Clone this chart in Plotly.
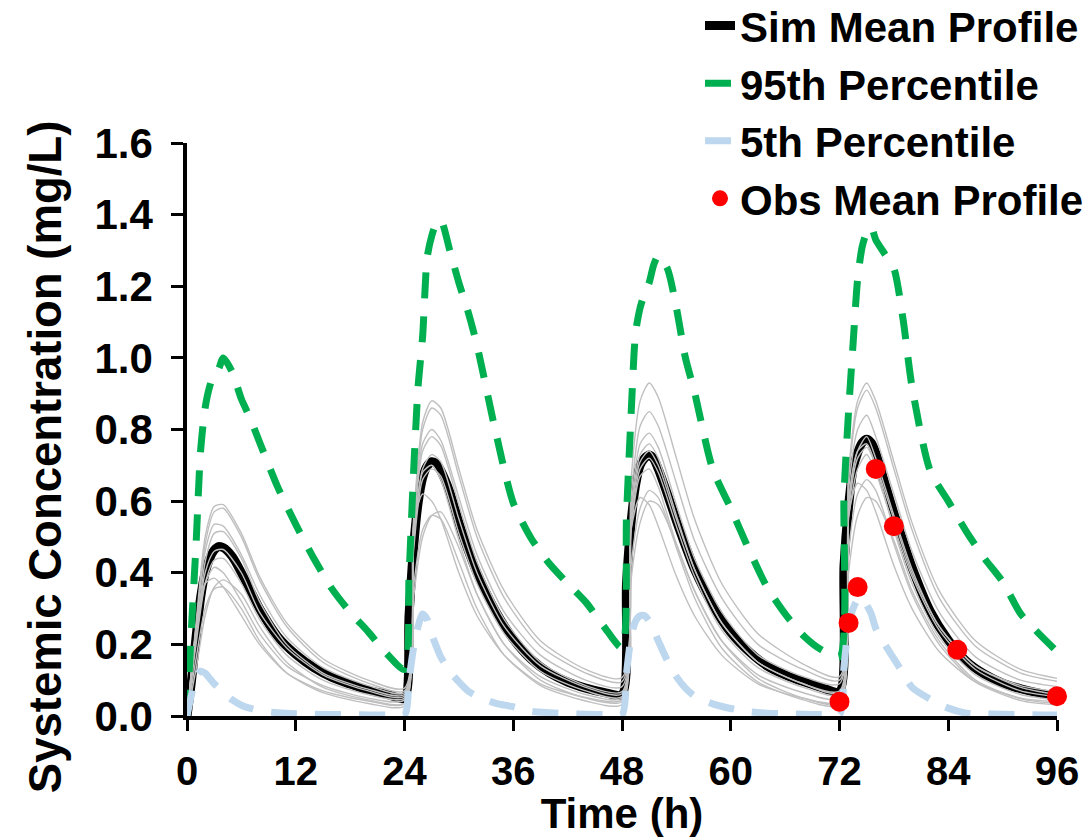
import plotly.graph_objects as go

# Sampling times (h) for the simulated summary profiles, four 24-h dosing intervals
sim_hours = [
    0, 0.5, 1, 1.5, 2, 2.5, 3, 3.5, 4, 5, 6, 7, 8, 10, 12, 14, 16, 18, 20, 22,
    24, 24.5, 25, 25.5, 26, 26.5, 27, 27.5, 28, 29, 30, 31, 32, 34, 36, 38, 40, 42, 44, 46,
    48, 48.5, 49, 49.5, 50, 50.5, 51, 51.5, 52, 53, 54, 55, 56, 58, 60, 62, 64, 66, 68, 70,
    72, 72.5, 73, 73.5, 74, 74.5, 75, 75.5, 76, 77, 78, 79, 80, 82, 84, 86, 88, 90, 92, 94,
    96,
]

sim_mean = [
    0.0, 0.10, 0.22, 0.33, 0.40, 0.44, 0.463, 0.473, 0.47, 0.445, 0.40, 0.35, 0.30, 0.222, 0.172, 0.135, 0.108, 0.089, 0.072, 0.061,
    0.050, 0.28, 0.47, 0.595, 0.665, 0.698, 0.71, 0.705, 0.685, 0.625, 0.54, 0.465, 0.40, 0.295, 0.215, 0.158, 0.12, 0.095, 0.078, 0.066,
    0.060, 0.37, 0.54, 0.645, 0.70, 0.72, 0.729, 0.718, 0.69, 0.62, 0.545, 0.475, 0.41, 0.31, 0.233, 0.18, 0.14, 0.115, 0.096, 0.08,
    0.068, 0.42, 0.585, 0.69, 0.735, 0.763, 0.773, 0.763, 0.735, 0.65, 0.566, 0.49, 0.415, 0.293, 0.212, 0.153, 0.117, 0.092, 0.076, 0.064,
    0.055,
]

p95 = [
    0.0, 0.25, 0.48, 0.74, 0.86, 0.92, 0.955, 0.97, 1.0, 0.96, 0.885, 0.83, 0.765, 0.64, 0.535, 0.44, 0.355, 0.29, 0.235, 0.175,
    0.13, 0.39, 0.68, 0.92, 1.06, 1.28, 1.34, 1.375, 1.385, 1.30, 1.21, 1.13, 1.035, 0.80, 0.595, 0.495, 0.425, 0.37, 0.318, 0.25,
    0.19, 0.56, 0.84, 1.07, 1.14, 1.18, 1.21, 1.26, 1.285, 1.25, 1.14, 1.0, 0.905, 0.69, 0.58, 0.465, 0.36, 0.285, 0.225, 0.185,
    0.165, 0.62, 0.85, 1.04, 1.22, 1.31, 1.35, 1.365, 1.33, 1.29, 1.25, 1.11, 0.92, 0.685, 0.60, 0.515, 0.44, 0.375, 0.285, 0.23,
    0.18,
]

p05 = [
    0.0, 0.06, 0.11, 0.125, 0.12, 0.105, 0.09, 0.078, 0.065, 0.045, 0.03, 0.021, 0.015, 0.009, 0.006, 0.005, 0.004, 0.004, 0.003, 0.003,
    0.003, 0.10, 0.19, 0.25, 0.285, 0.27, 0.228, 0.195, 0.165, 0.125, 0.095, 0.07, 0.056, 0.036, 0.026, 0.013, 0.009, 0.006, 0.005, 0.004,
    0.004, 0.12, 0.22, 0.265, 0.28, 0.28, 0.265, 0.24, 0.21, 0.155, 0.11, 0.078, 0.056, 0.034, 0.021, 0.012, 0.008, 0.006, 0.005, 0.004,
    0.004, 0.14, 0.25, 0.30, 0.325, 0.33, 0.31, 0.285, 0.245, 0.20, 0.16, 0.12, 0.08, 0.047, 0.022, 0.008, 0.006, 0.005, 0.004, 0.003,
    0.003,
]

# Individual trial mean profiles (thin grey lines)
trial_hours = [
    0, 1, 2, 3, 4, 6, 8, 11, 15, 20,
    24, 25, 26, 27, 28, 30, 32, 35, 39, 44,
    48, 49, 50, 51, 52, 54, 56, 59, 63, 68,
    72, 73, 74, 75, 76, 78, 80, 83, 87, 92,
    96,
]

trial_01 = [0, 0.26, 0.50, 0.585, 0.59, 0.51, 0.39, 0.26, 0.16, 0.10,
            0.078, 0.55, 0.82, 0.88, 0.86, 0.69, 0.52, 0.35, 0.21, 0.13,
            0.107, 0.66, 0.88, 0.93, 0.89, 0.72, 0.55, 0.37, 0.23, 0.145,
            0.11, 0.68, 0.88, 0.93, 0.88, 0.71, 0.54, 0.35, 0.21, 0.13,
            0.105]
trial_02 = [0, 0.24, 0.48, 0.57, 0.58, 0.50, 0.38, 0.25, 0.15, 0.092,
            0.07, 0.53, 0.80, 0.86, 0.84, 0.67, 0.50, 0.33, 0.195, 0.12,
            0.096, 0.61, 0.81, 0.85, 0.81, 0.65, 0.49, 0.33, 0.20, 0.13,
            0.10, 0.66, 0.86, 0.91, 0.86, 0.69, 0.52, 0.33, 0.195, 0.12,
            0.097]
trial_03 = [0, 0.25, 0.46, 0.535, 0.53, 0.45, 0.34, 0.22, 0.135, 0.085,
            0.065, 0.52, 0.76, 0.80, 0.77, 0.61, 0.45, 0.29, 0.17, 0.10,
            0.082, 0.58, 0.76, 0.79, 0.75, 0.59, 0.44, 0.29, 0.17, 0.11,
            0.09, 0.63, 0.80, 0.84, 0.78, 0.62, 0.46, 0.29, 0.165, 0.10,
            0.082]
trial_04 = [0, 0.22, 0.43, 0.51, 0.515, 0.44, 0.32, 0.20, 0.12, 0.075,
            0.06, 0.50, 0.74, 0.78, 0.755, 0.59, 0.43, 0.27, 0.15, 0.085,
            0.068, 0.56, 0.73, 0.76, 0.72, 0.56, 0.41, 0.26, 0.15, 0.09,
            0.07, 0.57, 0.72, 0.75, 0.70, 0.55, 0.40, 0.25, 0.14, 0.085,
            0.068]
trial_05 = [0, 0.23, 0.40, 0.46, 0.465, 0.40, 0.29, 0.19, 0.115, 0.07,
            0.055, 0.48, 0.69, 0.73, 0.71, 0.55, 0.40, 0.25, 0.14, 0.08,
            0.062, 0.55, 0.71, 0.74, 0.70, 0.55, 0.41, 0.26, 0.15, 0.09,
            0.065, 0.59, 0.74, 0.78, 0.72, 0.56, 0.41, 0.25, 0.14, 0.08,
            0.06]
trial_06 = [0, 0.20, 0.37, 0.435, 0.44, 0.37, 0.27, 0.17, 0.10, 0.06,
            0.05, 0.46, 0.66, 0.69, 0.67, 0.51, 0.37, 0.23, 0.125, 0.07,
            0.054, 0.53, 0.69, 0.72, 0.68, 0.53, 0.39, 0.24, 0.135, 0.08,
            0.06, 0.55, 0.69, 0.73, 0.68, 0.53, 0.39, 0.24, 0.13, 0.07,
            0.054]
trial_07 = [0, 0.22, 0.37, 0.415, 0.40, 0.32, 0.23, 0.14, 0.085, 0.05,
            0.045, 0.50, 0.68, 0.70, 0.66, 0.49, 0.34, 0.20, 0.11, 0.06,
            0.05, 0.52, 0.67, 0.69, 0.64, 0.48, 0.35, 0.21, 0.115, 0.065,
            0.05, 0.60, 0.74, 0.76, 0.70, 0.52, 0.37, 0.22, 0.115, 0.06,
            0.045]
trial_08 = [0, 0.24, 0.37, 0.385, 0.36, 0.28, 0.20, 0.12, 0.07, 0.042,
            0.035, 0.53, 0.62, 0.60, 0.55, 0.40, 0.28, 0.17, 0.09, 0.052,
            0.045, 0.52, 0.61, 0.59, 0.53, 0.39, 0.28, 0.17, 0.09, 0.05,
            0.04, 0.56, 0.65, 0.63, 0.57, 0.42, 0.30, 0.18, 0.095, 0.05,
            0.04]
trial_09 = [0, 0.13, 0.28, 0.36, 0.38, 0.34, 0.25, 0.15, 0.08, 0.045,
            0.035, 0.33, 0.50, 0.56, 0.57, 0.47, 0.34, 0.20, 0.10, 0.05,
            0.04, 0.38, 0.54, 0.60, 0.59, 0.48, 0.35, 0.21, 0.105, 0.05,
            0.035, 0.40, 0.56, 0.61, 0.60, 0.49, 0.35, 0.21, 0.10, 0.048,
            0.035]
trial_10 = [0, 0.16, 0.30, 0.355, 0.36, 0.30, 0.21, 0.12, 0.065, 0.035,
            0.028, 0.36, 0.52, 0.56, 0.55, 0.43, 0.30, 0.17, 0.085, 0.042,
            0.032, 0.42, 0.58, 0.63, 0.61, 0.47, 0.33, 0.19, 0.095, 0.045,
            0.03, 0.46, 0.62, 0.66, 0.63, 0.48, 0.34, 0.20, 0.095, 0.043,
            0.031]
trials = [trial_01, trial_02, trial_03, trial_04, trial_05,
          trial_06, trial_07, trial_08, trial_09, trial_10]

# Observed mean concentrations after the fourth dose
obs_hours = [72, 73, 74, 76, 78, 85, 96]
obs_conc = [0.04, 0.26, 0.36, 0.69, 0.53, 0.185, 0.055]

x_ticks = [0, 12, 24, 36, 48, 60, 72, 84, 96]

FONT = "Liberation Sans, Arial, sans-serif"
SMOOTH = 0.7
DASH = "26px,18px"

fig = go.Figure()

fig.add_trace(go.Scatter(
    x=sim_hours, y=sim_mean, mode="lines", name="Sim Mean Profile",
    line=dict(color="black", width=9, shape="spline", smoothing=SMOOTH),
))

for tr in trials:
    fig.add_trace(go.Scatter(
        x=trial_hours, y=tr, mode="lines", showlegend=False, hoverinfo="skip",
        line=dict(color="#BFBFBF", width=1.4, shape="spline", smoothing=SMOOTH),
    ))

fig.add_trace(go.Scatter(
    x=sim_hours, y=p95, mode="lines", name="95th Percentile",
    line=dict(color="#00B050", width=7, dash=DASH, shape="spline", smoothing=SMOOTH),
))
fig.add_trace(go.Scatter(
    x=sim_hours, y=p05, mode="lines", name="5th Percentile",
    line=dict(color="#BDD7EE", width=7, dash=DASH, shape="spline", smoothing=SMOOTH),
))
fig.add_trace(go.Scatter(
    x=obs_hours, y=obs_conc, mode="markers", name="Obs Mean Profile",
    marker=dict(color="#FF0000", size=20), cliponaxis=False,
))

title_font = dict(family=FONT, size=42, color="black", weight="bold")

fig.update_layout(
    width=1089, height=837,
    margin=dict(l=187, r=32, t=143, b=121, autoexpand=False),
    paper_bgcolor="white", plot_bgcolor="white",
    font=dict(family=FONT, color="black"),
    showlegend=True,
    legend=dict(
        xref="container", yref="paper",
        x=1.0, xanchor="right", y=1.264, yanchor="top",
        bgcolor="rgba(0,0,0,0)",
        font=dict(family=FONT, size=42, color="black", weight="bold"),
        itemwidth=30,
    ),
    xaxis=dict(
        range=[0, 96], tickvals=x_ticks, ticktext=[str(v) for v in x_ticks],
        ticks="outside", ticklen=11, tickwidth=3, tickcolor="black",
        showline=True, linewidth=3.5, linecolor="black",
        showgrid=False, zeroline=False, ticklabelstandoff=6,
        tickfont=dict(family=FONT, size=40, color="black", weight="bold"),
        title=dict(text="Time (h)", font=title_font, standoff=2),
    ),
    yaxis=dict(
        range=[0, 1.6], tick0=0, dtick=0.2, tickformat=".1f",
        ticks="outside", ticklen=12, tickwidth=3, tickcolor="black",
        showline=True, linewidth=3.5, linecolor="black",
        showgrid=False, zeroline=False, ticklabelstandoff=10,
        tickfont=dict(family=FONT, size=42, color="black", weight="bold"),
    ),
    annotations=[dict(
        text="Systemic Concentration (mg/L)", textangle=-90,
        xref="paper", yref="paper", x=-0.163, y=0.452,
        xanchor="center", yanchor="middle", showarrow=False,
        font=dict(family=FONT, size=45.5, color="black", weight="bold"),
    )],
)

fig.write_html("out.html")
